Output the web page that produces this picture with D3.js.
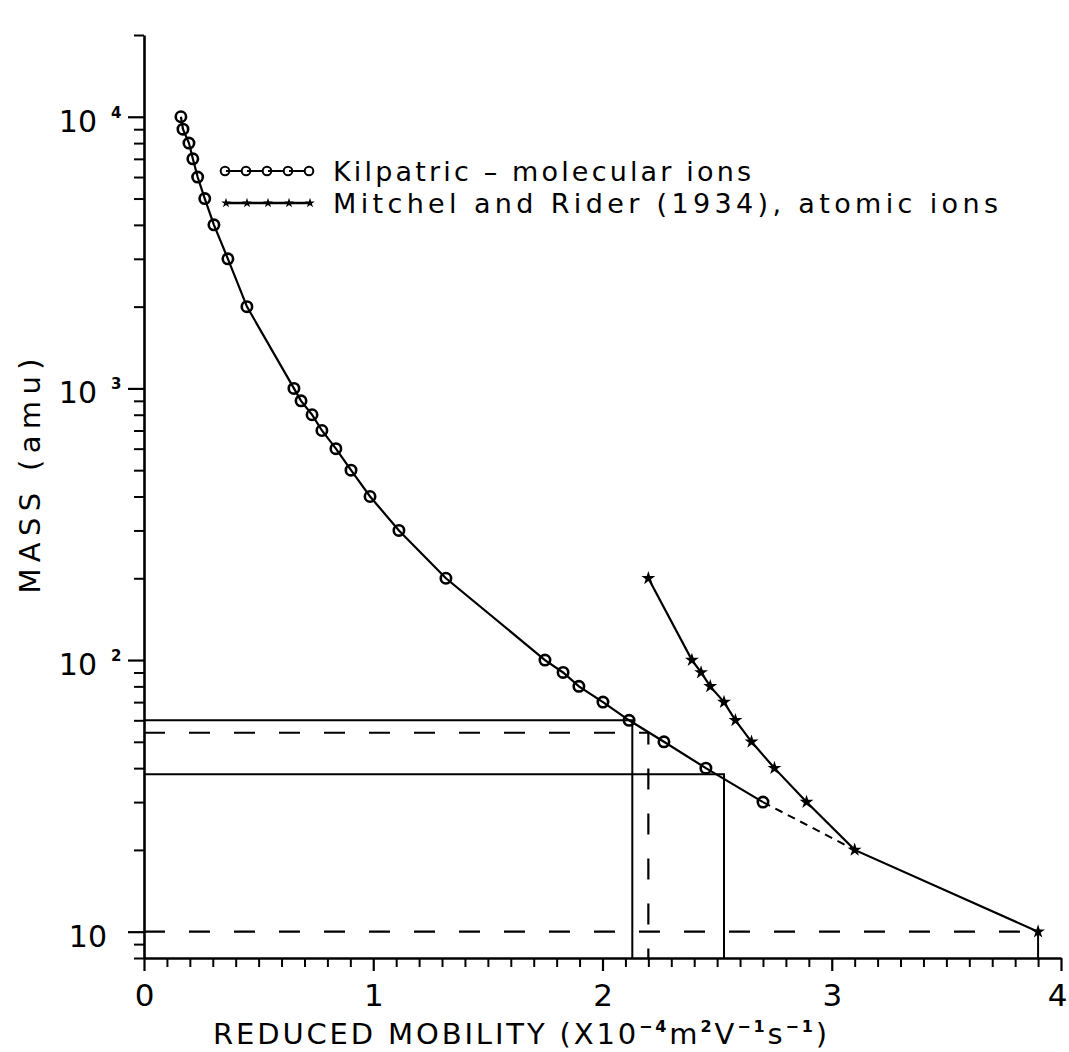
<!DOCTYPE html>
<html>
<head>
<meta charset="utf-8">
<script src="https://cdn.jsdelivr.net/npm/d3@7"></script>
<style>
  body { margin: 0; background: #fff; }
  text { font-family: "DejaVu Sans", "Liberation Sans", sans-serif; fill: #000; }
  .axis path, .axis line { stroke: #000; }
</style>
</head>
<body>
<div class="chart"></div>
<script>
// Kilpatric - molecular ions (reduced mobility, mass in amu)
var kilpatricX = [0.161, 0.17, 0.196, 0.213, 0.234, 0.265, 0.305, 0.366, 0.449,
  0.654, 0.685, 0.733, 0.776, 0.837, 0.903, 0.986, 1.112, 1.317,
  1.749, 1.828, 1.897, 2.002, 2.116, 2.268, 2.451, 2.70];
var kilpatricMass = [10000, 9000, 8000, 7000, 6000, 5000, 4000, 3000, 2000,
  1000, 900, 800, 700, 600, 500, 400, 300, 200,
  100, 90, 80, 70, 60, 50, 40, 30];

// Mitchel and Rider (1934) - atomic ions
var mitchelX = [2.2, 2.39, 2.43, 2.47, 2.53, 2.58, 2.65, 2.75, 2.89, 3.10, 3.90];
var mitchelMass = [200, 100, 90, 80, 70, 60, 50, 40, 30, 20, 10];

// guide lines
var solidGuides = [
  [[0, 60], [2.13, 60], [2.13, 8]],
  [[0, 38], [2.53, 38], [2.53, 8]],
  [[3.9, 10], [3.9, 8]]
];
var dashedGuides = [
  [[0, 54], [2.2, 54], [2.2, 8]],
  [[0, 10], [3.9, 10]]
];

var xTickValues = [0, 1, 2, 3, 4];
var xTickLabels = ["0", "1", "2", "3", "4"];
var massDecades = [10, 100, 1000, 10000];
var decadeExponents = ["", "2", "3", "4"];

var legendLabels = ["Kilpatric  \u2013  molecular  ions", "Mitchel  and  Rider  (1934),  atomic  ions"];

var svgWidth = 1069;
var svgHeight = 1052;

var margin = { top: 35, right: 8, bottom: 94, left: 144 };
var width = svgWidth - margin.left - margin.right;
var height = svgHeight - margin.top - margin.bottom;

var svg = d3.select(".chart")
  .append("svg")
  .attr("width", svgWidth)
  .attr("height", svgHeight);

var chartGroup = svg.append("g")
  .attr("transform", `translate(${margin.left}, ${margin.top})`);

// scales
var xLinearScale = d3.scaleLinear().domain([0, 4]).range([0, width]);
var yLogScale = d3.scaleLog().domain([8, 20000]).range([height, 0]);

var kilpatric = kilpatricX.map((d, i) => [d, kilpatricMass[i]]);
var mitchel = mitchelX.map((d, i) => [d, mitchelMass[i]]);

// minor ticks
var xMinor = d3.range(1, 40).filter(i => i % 10 !== 0).map(i => i / 10);
var yMinor = [8, 9];
[10, 100, 1000].forEach(function(dec) {
  d3.range(2, 10).forEach(function(k) { yMinor.push(k * dec); });
});
yMinor.push(20000);

// axes
chartGroup.append("g")
  .attr("class", "axis")
  .attr("transform", `translate(0, ${height})`)
  .call(d3.axisBottom(xLinearScale).tickValues(xMinor).tickSize(9).tickSizeOuter(0).tickFormat(""))
  .call(g => g.selectAll("line").attr("stroke-width", 2))
  .call(g => g.select(".domain").attr("stroke-width", 2.6));

chartGroup.append("g")
  .attr("class", "axis")
  .attr("transform", `translate(0, ${height})`)
  .call(d3.axisBottom(xLinearScale).tickValues(xTickValues).tickSize(13).tickSizeOuter(0)
    .tickFormat((d, i) => xTickLabels[i]))
  .call(g => g.select(".domain").remove())
  .call(g => g.selectAll("line").attr("stroke-width", 2.2))
  .call(g => g.selectAll("text")
    .attr("font-size", 31)
    .attr("dy", null)
    .attr("y", 48)
    .attr("dx", d => d === 4 ? -4 : 0)
    .style("font-family", "DejaVu Sans, sans-serif"));

chartGroup.append("g")
  .attr("class", "axis")
  .call(d3.axisLeft(yLogScale).tickValues(yMinor).tickSize(10).tickSizeOuter(0).tickFormat(""))
  .call(g => g.selectAll("line").attr("stroke-width", 2))
  .call(g => g.select(".domain").attr("stroke-width", 2.6));

chartGroup.append("g")
  .attr("class", "axis")
  .call(d3.axisLeft(yLogScale).tickValues(massDecades).tickSize(16).tickSizeOuter(0).tickFormat(""))
  .call(g => g.select(".domain").remove())
  .call(g => g.selectAll("line").attr("stroke-width", 2.2));

// decade labels with superscripts
massDecades.forEach(function(v, i) {
  var yy = yLogScale(v);
  var sup = decadeExponents[i];
  chartGroup.append("text")
    .attr("x", sup ? -47 : -37)
    .attr("y", yy + 15)
    .attr("text-anchor", "end")
    .attr("font-size", 30)
    .text("10");
  if (sup) {
    chartGroup.append("text")
      .attr("x", -33)
      .attr("y", yy + 1)
      .attr("font-size", 15)
      .attr("font-weight", "bold")
      .text(sup);
  }
});

// guide lines
var guideLine = d3.line()
  .x(d => xLinearScale(d[0]))
  .y(d => yLogScale(d[1]));

chartGroup.selectAll(".guide-solid")
  .data(solidGuides)
  .enter()
  .append("path")
  .attr("class", "guide-solid")
  .attr("d", guideLine)
  .attr("fill", "none")
  .attr("stroke", "#000")
  .attr("stroke-width", 2);

chartGroup.selectAll(".guide-dashed")
  .data(dashedGuides)
  .enter()
  .append("path")
  .attr("class", "guide-dashed")
  .attr("d", guideLine)
  .attr("fill", "none")
  .attr("stroke", "#000")
  .attr("stroke-width", 2.2)
  .attr("stroke-dasharray", "21,24");

// series lines
chartGroup.append("path")
  .datum(kilpatric)
  .attr("d", guideLine)
  .attr("fill", "none")
  .attr("stroke", "#000")
  .attr("stroke-width", 2.2);

chartGroup.append("path")
  .datum(mitchel)
  .attr("d", guideLine)
  .attr("fill", "none")
  .attr("stroke", "#000")
  .attr("stroke-width", 2.2);

// dashed bridge from the last molecular point to the atomic 20 amu point
chartGroup.append("path")
  .datum([kilpatric[kilpatric.length - 1], mitchel[mitchelMass.indexOf(20)]])
  .attr("d", guideLine)
  .attr("fill", "none")
  .attr("stroke", "#000")
  .attr("stroke-width", 2)
  .attr("stroke-dasharray", "8,6");

// markers
chartGroup.selectAll(".kil")
  .data(kilpatric)
  .enter()
  .append("circle")
  .attr("class", "kil")
  .attr("cx", d => xLinearScale(d[0]))
  .attr("cy", d => yLogScale(d[1]))
  .attr("r", 5.2)
  .attr("fill", "none")
  .attr("stroke", "#000")
  .attr("stroke-width", 2.6);

var star = d3.symbol().type(d3.symbolStar);

chartGroup.selectAll(".mit")
  .data(mitchel)
  .enter()
  .append("path")
  .attr("class", "mit")
  .attr("transform", d => `translate(${xLinearScale(d[0])}, ${yLogScale(d[1])})`)
  .attr("d", star.size(60))
  .attr("fill", "#000");

// legend
var legend = svg.append("g");
var legendX = d3.scaleLinear().domain([0, 4]).range([225, 309]);
var legendRows = [171, 203];

legend.append("line")
  .attr("x1", 225).attr("x2", 309)
  .attr("y1", legendRows[0]).attr("y2", legendRows[0])
  .attr("stroke", "#000").attr("stroke-width", 2);
legend.selectAll(".lc")
  .data(d3.range(5))
  .enter()
  .append("circle")
  .attr("cx", d => legendX(d))
  .attr("cy", legendRows[0])
  .attr("r", 4.3)
  .attr("fill", "#fff")
  .attr("stroke", "#000")
  .attr("stroke-width", 2);
legend.selectAll(".lcbar")
  .data(d3.range(4))
  .enter()
  .append("line")
  .attr("x1", d => legendX(d) + 1).attr("x2", d => legendX(d) + 5)
  .attr("y1", legendRows[0]).attr("y2", legendRows[0])
  .attr("stroke", "#000").attr("stroke-width", 2);

legend.append("line")
  .attr("x1", 227).attr("x2", 309)
  .attr("y1", legendRows[1]).attr("y2", legendRows[1])
  .attr("stroke", "#000").attr("stroke-width", 2.4);
legend.selectAll(".ls")
  .data(d3.range(5))
  .enter()
  .append("path")
  .attr("transform", d => `translate(${legendX(d) + 1}, ${legendRows[1]})`)
  .attr("d", star.size(30))
  .attr("fill", "#000");

legend.selectAll(".lt")
  .data(legendLabels)
  .enter()
  .append("text")
  .attr("x", 333)
  .attr("y", (d, i) => legendRows[i] + 10)
  .attr("font-size", 27)
  .attr("textLength", (d, i) => i === 0 ? 418 : 665)
  .attr("lengthAdjust", "spacing")
  .text(d => d);

// axis titles
var xTitle = svg.append("text")
  .attr("x", 213)
  .attr("y", 1044)
  .attr("font-size", 29)
  .attr("textLength", 614)
  .attr("lengthAdjust", "spacing");
xTitle.append("tspan").text("REDUCED  MOBILITY  (X10");
xTitle.append("tspan").attr("dy", -12).attr("font-size", 16).attr("font-weight", "bold").text("\u22124");
xTitle.append("tspan").attr("dy", 12).text("m");
xTitle.append("tspan").attr("dy", -12).attr("font-size", 16).attr("font-weight", "bold").text("2");
xTitle.append("tspan").attr("dy", 12).text("V");
xTitle.append("tspan").attr("dy", -12).attr("font-size", 16).attr("font-weight", "bold").text("\u22121");
xTitle.append("tspan").attr("dy", 12).text("s");
xTitle.append("tspan").attr("dy", -12).attr("font-size", 16).attr("font-weight", "bold").text("\u22121");
xTitle.append("tspan").attr("dy", 12).text(")");

svg.append("text")
  .attr("transform", "translate(40, 476) rotate(-90)")
  .attr("text-anchor", "middle")
  .attr("font-size", 29)
  .attr("textLength", 235)
  .attr("lengthAdjust", "spacing")
  .text("MASS  (amu)");
</script>
</body>
</html>
